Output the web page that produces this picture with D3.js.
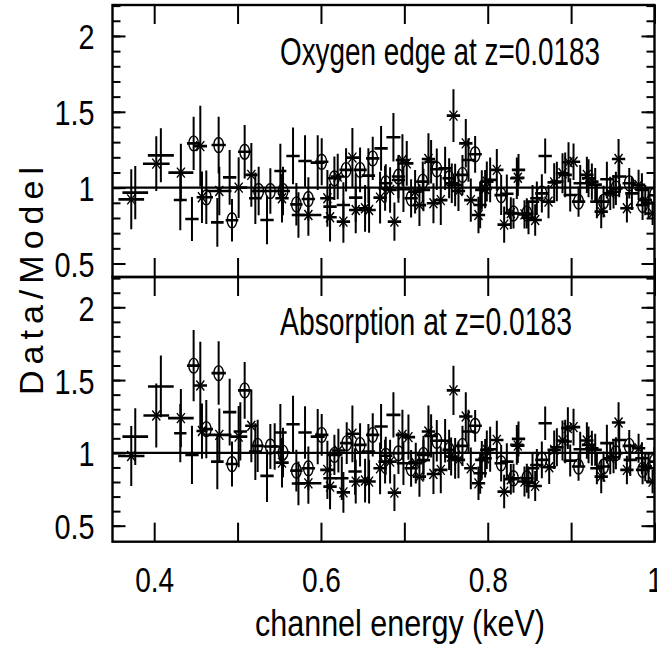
<!DOCTYPE html>
<html><head><meta charset="utf-8">
<script src="https://cdn.jsdelivr.net/npm/d3@7"></script>
<style>body{margin:0;background:#fff}svg{display:block}</style>
</head><body>
<script>
// ---- data: [energy keV, ratio, x half-width, y error] ----
const topPlus = [
[0.3773,0.967,0.0154,0.176],[0.408,1.213,0.0156,0.178],[0.4313,0.919,0.0078,0.2],[0.4453,0.793,0.008,0.145],
[0.4757,0.771,0.0076,0.16],[0.4905,1.068,0.008,0.18],[0.5213,0.93,0.0076,0.17],[0.5353,0.787,0.008,0.16],
[0.5513,1.11,0.0072,0.18],[0.5665,1.209,0.008,0.187],[0.573,0.82,0.008,0.15],[0.5809,1.176,0.008,0.17],
[0.5961,1.165,0.0084,0.18],[0.6109,0.875,0.008,0.15],[0.6269,0.886,0.008,0.15],[0.6417,0.934,0.008,0.16],
[0.6569,1.079,0.008,0.18],[0.6721,1.259,0.008,0.148],[0.6769,0.995,0.008,0.148],[0.6869,1.332,0.0084,0.16],
[0.6929,1.05,0.008,0.15],[0.6989,0.99,0.008,0.15],[0.7229,0.985,0.008,0.14],[0.7321,1.171,0.008,0.143],
[0.7489,1.127,0.008,0.143],[0.7609,1.018,0.008,0.14],[0.7769,1.182,0.008,0.143],[0.7909,0.886,0.008,0.154],
[0.7929,0.985,0.008,0.13],[0.8029,1.051,0.008,0.148],[0.8229,0.96,0.008,0.126],[0.8349,1.062,0.008,0.137],
[0.8369,1.117,0.008,0.105],[0.8489,0.802,0.008,0.11],[0.8537,0.908,0.008,0.11],[0.8589,0.93,0.008,0.11],
[0.8689,1.209,0.008,0.115],[0.8829,1.04,0.008,0.13],[0.8929,1.084,0.008,0.148],[0.8989,0.952,0.008,0.11],
[0.9109,1.029,0.008,0.12],[0.9209,1.062,0.008,0.126],[0.9289,1.02,0.008,0.11],[0.9309,0.908,0.008,0.11],
[0.9429,1.055,0.008,0.115],[0.9509,0.973,0.008,0.11],[0.9577,1.073,0.0086,0.137],[0.9729,0.962,0.008,0.11],
[0.9849,0.985,0.008,0.11],[0.9929,0.897,0.008,0.1]];
const topStar = [
[0.3725,0.923,0.0154,0.198],[0.4025,1.158,0.016,0.18],[0.432,1.099,0.015,0.19],[0.4553,1.274,0.008,0.266],
[0.4573,0.937,0.0064,0.17],[0.4781,0.978,0.0146,0.16],[0.5013,1.0,0.0104,0.2],[0.5165,1.084,0.0074,0.21],
[0.5533,0.93,0.008,0.16],[0.5849,0.82,0.0156,0.137],[0.6077,0.93,0.0086,0.187],[0.6109,0.805,0.008,0.16],
[0.6201,1.073,0.008,0.15],[0.6269,0.776,0.008,0.14],[0.6377,1.198,0.008,0.195],[0.6417,0.853,0.008,0.154],
[0.6529,0.864,0.008,0.154],[0.6577,0.853,0.008,0.15],[0.6709,0.934,0.008,0.17],[0.6829,0.985,0.008,0.15],
[0.6881,0.776,0.008,0.126],[0.6977,1.182,0.008,0.17],[0.7029,1.16,0.008,0.148],[0.7129,0.973,0.008,0.143],
[0.7181,0.885,0.008,0.137],[0.7289,1.189,0.008,0.17],[0.7349,0.897,0.008,0.132],[0.7437,0.918,0.008,0.165],
[0.7569,1.029,0.008,0.13],[0.7589,1.475,0.008,0.174],[0.7649,0.978,0.008,0.132],[0.7737,1.292,0.008,0.16],
[0.7797,0.918,0.008,0.143],[0.7889,0.82,0.008,0.12],[0.7969,0.991,0.008,0.126],[0.7989,1.04,0.008,0.132],
[0.8109,1.117,0.008,0.137],[0.8197,0.756,0.008,0.12],[0.8277,0.832,0.008,0.104],[0.8361,1.065,0.008,0.12],
[0.8441,0.824,0.008,0.093],[0.8569,0.787,0.008,0.104],[0.8729,0.908,0.008,0.11],[0.8797,1.035,0.008,0.126],
[0.8897,1.095,0.008,0.132],[0.8969,1.167,0.008,0.132],[0.9029,1.171,0.008,0.12],[0.9189,1.084,0.008,0.12],
[0.9249,1.04,0.008,0.12],[0.9361,0.842,0.008,0.11],[0.9469,0.962,0.008,0.11],[0.9569,1.189,0.008,0.132],
[0.9669,0.864,0.008,0.093],[0.9809,1.018,0.008,0.1],[0.9889,0.918,0.008,0.1],[0.9977,0.83,0.008,0.077]];
const topCircle = [
[0.4473,1.292,0.008,0.176],[0.4625,0.937,0.008,0.176],[0.4773,1.281,0.0086,0.187],[0.4933,0.785,0.0076,0.14],
[0.5085,1.237,0.008,0.176],[0.5253,0.978,0.008,0.16],[0.5393,0.978,0.008,0.15],[0.5545,0.978,0.0084,0.16],
[0.5705,0.89,0.0074,0.14],[0.5849,0.925,0.008,0.143],[0.6009,1.171,0.008,0.155],[0.6161,1.062,0.0084,0.143],
[0.6301,1.117,0.008,0.143],[0.6469,1.117,0.008,0.148],[0.6621,1.193,0.008,0.143],[0.6777,1.029,0.008,0.126],
[0.6929,1.073,0.008,0.143],[0.7081,0.93,0.008,0.126],[0.7221,1.04,0.008,0.132],[0.7389,1.121,0.008,0.137],
[0.7537,1.062,0.008,0.132],[0.7697,1.084,0.008,0.132],[0.7849,1.22,0.008,0.121],[0.8161,0.951,0.008,0.132],
[0.8309,0.83,0.008,0.1],[0.8469,0.83,0.008,0.1],[0.8649,0.962,0.008,0.126],[0.9089,0.908,0.008,0.1],
[0.9389,0.908,0.008,0.104],[0.9537,0.995,0.008,0.11],[0.9697,1.029,0.008,0.1],[0.9857,0.886,0.008,0.1],
[0.9999,0.95,0.008,0.1]];

const botPlus = [
[0.3773,1.112,0.0154,0.195],[0.408,1.456,0.0154,0.212],[0.4313,1.135,0.0074,0.2],[0.4453,0.986,0.008,0.2],
[0.4757,0.94,0.0076,0.19],[0.4905,1.28,0.008,0.23],[0.5033,1.147,0.008,0.2],[0.5213,1.009,0.0076,0.195],
[0.5353,0.842,0.008,0.18],[0.5445,1.044,0.006,0.16],[0.5513,1.14,0.0076,0.195],[0.5665,1.197,0.008,0.195],
[0.573,0.79,0.008,0.15],[0.5809,1.14,0.008,0.18],[0.5961,1.112,0.0084,0.19],[0.6109,0.826,0.008,0.155],
[0.625,0.826,0.008,0.15],[0.6409,0.872,0.008,0.16],[0.6569,1.009,0.008,0.19],[0.6721,1.181,0.008,0.155],
[0.6769,0.94,0.008,0.15],[0.6869,1.261,0.0084,0.155],[0.6989,0.929,0.008,0.15],[0.7229,0.95,0.008,0.14],
[0.7321,1.117,0.008,0.149],[0.7489,1.083,0.008,0.149],[0.7609,0.963,0.008,0.14],[0.7769,1.147,0.008,0.149],
[0.7909,0.86,0.008,0.14],[0.7929,0.952,0.008,0.13],[0.8029,1.025,0.008,0.155],[0.8229,0.94,0.008,0.126],
[0.8349,1.055,0.008,0.137],[0.8369,1.096,0.008,0.12],[0.8489,0.796,0.008,0.11],[0.8537,0.894,0.008,0.11],
[0.8589,0.917,0.008,0.11],[0.8689,1.204,0.008,0.115],[0.8829,1.039,0.008,0.13],[0.8929,1.078,0.008,0.15],
[0.8989,0.947,0.008,0.11],[0.9109,1.025,0.008,0.12],[0.9209,1.055,0.008,0.126],[0.9289,1.021,0.008,0.11],
[0.9309,0.894,0.008,0.11],[0.9429,1.067,0.008,0.126],[0.9509,0.97,0.008,0.11],[0.9577,1.089,0.0086,0.137],
[0.9709,0.952,0.008,0.11],[0.9849,0.963,0.008,0.11],[0.9929,0.894,0.008,0.1]];
const botStar = [
[0.3725,0.979,0.0158,0.206],[0.4025,1.257,0.0154,0.22],[0.432,1.239,0.0154,0.2],[0.4553,1.463,0.008,0.3],
[0.4573,1.15,0.0066,0.19],[0.4781,1.124,0.0146,0.18],[0.5013,1.112,0.0104,0.21],[0.5165,1.186,0.0074,0.25],
[0.5533,0.933,0.008,0.17],[0.5849,0.791,0.0156,0.14],[0.6077,0.883,0.0086,0.2],[0.6109,0.768,0.008,0.155],
[0.6209,1.016,0.008,0.15],[0.6269,0.729,0.008,0.14],[0.6377,1.131,0.008,0.195],[0.6417,0.803,0.008,0.15],
[0.6529,0.81,0.008,0.15],[0.6577,0.803,0.008,0.15],[0.6709,0.894,0.008,0.178],[0.6829,0.94,0.008,0.15],
[0.6881,0.727,0.008,0.126],[0.6977,1.124,0.008,0.172],[0.7049,1.108,0.008,0.155],[0.7137,0.929,0.008,0.14],
[0.7181,0.837,0.008,0.138],[0.7289,1.147,0.008,0.178],[0.7349,0.855,0.008,0.138],[0.7437,0.883,0.008,0.16],
[0.7561,0.975,0.008,0.13],[0.7589,1.429,0.008,0.169],[0.7649,0.952,0.008,0.126],[0.7737,1.25,0.008,0.166],
[0.7797,0.894,0.008,0.143],[0.7889,0.791,0.008,0.115],[0.7969,0.963,0.008,0.132],[0.7989,1.021,0.008,0.132],
[0.8109,1.089,0.008,0.132],[0.8197,0.734,0.008,0.115],[0.8277,0.819,0.008,0.104],[0.8361,1.05,0.008,0.12],
[0.8441,0.803,0.008,0.103],[0.8569,0.773,0.008,0.103],[0.8737,0.901,0.008,0.115],[0.8797,1.021,0.008,0.132],
[0.8897,1.085,0.008,0.138],[0.8961,1.17,0.008,0.143],[0.9029,1.177,0.008,0.126],[0.9189,1.085,0.008,0.126],
[0.9249,1.032,0.008,0.12],[0.9361,0.837,0.008,0.115],[0.9469,0.963,0.008,0.11],[0.9569,1.209,0.008,0.138],
[0.9669,0.883,0.008,0.098],[0.9809,1.032,0.008,0.1],[0.9889,0.906,0.008,0.1],[0.9977,0.803,0.008,0.08]];
const botCircle = [
[0.4473,1.599,0.008,0.245],[0.4625,1.163,0.008,0.2],[0.4773,1.548,0.0086,0.218],[0.4933,0.924,0.0076,0.155],
[0.5085,1.429,0.008,0.195],[0.5241,1.048,0.0074,0.18],[0.5393,1.044,0.008,0.155],[0.5545,1.002,0.0084,0.17],
[0.5705,0.878,0.0074,0.143],[0.5849,0.894,0.008,0.15],[0.6009,1.124,0.008,0.143],[0.6161,0.986,0.0084,0.138],
[0.6309,1.067,0.008,0.143],[0.6469,1.055,0.008,0.149],[0.6621,1.124,0.008,0.149],[0.6777,0.98,0.008,0.13],
[0.6929,0.998,0.008,0.143],[0.7081,0.894,0.008,0.126],[0.7229,0.986,0.008,0.132],[0.7389,1.083,0.008,0.143],
[0.7537,1.021,0.008,0.138],[0.7697,1.048,0.008,0.138],[0.7849,1.186,0.008,0.109],[0.8161,0.929,0.008,0.126],
[0.8309,0.826,0.008,0.1],[0.8469,0.826,0.008,0.1],[0.8649,0.952,0.008,0.126],[0.9089,0.906,0.008,0.098],
[0.9389,0.906,0.008,0.104],[0.9537,0.998,0.008,0.11],[0.9697,1.048,0.008,0.109],[0.9857,0.883,0.008,0.098],
[0.9999,0.94,0.008,0.1]];

const xTicks = [0.4,0.5,0.6,0.7,0.8,0.9,1.0];
const xTickLabels = ["0.4","","0.6","","0.8","","1"];
const yMajor = [0.5,1,1.5,2];
const yMajorLabels = ["0.5","1","1.5","2"];
const yMinor = [0.5,0.6,0.7,0.8,0.9,1.0,1.1,1.2,1.3,1.4,1.5,1.6,1.7,1.8,1.9,2.0,2.1,2.2];
const titles = ["Oxygen edge at z=0.0183","Absorption at z=0.0183"];
const xTitle = "channel energy (keV)";
const yTitle = "Data/Model";

// ---- drawing ----
const W = 657, H = 651;
const FONT = "'Liberation Sans', Arial, sans-serif";
const svg = d3.select("body").append("svg").attr("width", W).attr("height", H);
const L = 112.5, R = 654.5;
const x = d3.scaleLinear().domain([0.35, 1.0]).range([L, R]);

const panels = [
  {top: 5, bottom: 277, dom: [0.411, 2.204], data: [topPlus, topStar, topCircle], title: titles[0], tx: 280, ty: 65, tl: 320},
  {top: 277, bottom: 541.7, dom: [0.39, 2.208], data: [botPlus, botStar, botCircle], title: titles[1], tx: 280, ty: 335, tl: 292}
];

panels.forEach((p, i) => {
  const y = d3.scaleLinear().domain(p.dom).range([p.bottom, p.top]);
  const g = svg.append("g");
  const cid = "clip" + i;
  svg.append("clipPath").attr("id", cid).append("rect")
    .attr("x", L).attr("y", p.top).attr("width", R - L).attr("height", p.bottom - p.top);

  const minorV = yMinor.filter(v => v > p.dom[0] && v < p.dom[1]);
  const aL1 = d3.axisLeft(y).tickValues(minorV).tickSize(-8).tickFormat("");
  const aL2 = d3.axisLeft(y).tickValues(yMajor).tickSize(-13).tickFormat((d, k) => yMajorLabels[k]);
  const aR1 = d3.axisRight(y).tickValues(minorV).tickSize(-8).tickFormat("");
  const aR2 = d3.axisRight(y).tickValues(yMajor).tickSize(-13).tickFormat("");
  const aT = d3.axisTop(x).tickValues(xTicks).tickSize(-19).tickFormat("");
  const aB = d3.axisBottom(x).tickValues(xTicks).tickSize(-19)
      .tickFormat(i === 1 ? ((d, k) => xTickLabels[k]) : "");

  const ax = (gen, tr) => {
    const a = g.append("g").attr("transform", tr).call(gen);
    a.select(".domain").remove();
    a.selectAll("line").attr("stroke", "#000").attr("stroke-width", 2);
    a.selectAll("text").attr("font-family", FONT).attr("fill", "#000");
    return a;
  };
  ax(aL1, `translate(${L},0)`);
  const la = ax(aL2, `translate(${L},0)`);
  la.selectAll("text").attr("x", 0).attr("dy", "0.36em").attr("font-size", 36)
    .attr("transform", "translate(-18,0) scale(0.8,1)");
  ax(aR1, `translate(${R},0)`);
  ax(aR2, `translate(${R},0)`);
  ax(aT, `translate(0,${p.top})`);
  const ba = ax(aB, `translate(0,${p.bottom})`);
  if (i === 1) {
    ba.selectAll("text").attr("y", 0).attr("dy", null).attr("font-size", 36)
      .attr("transform", `translate(0,${592 - p.bottom}) scale(0.78,1)`);
  }

  g.append("line").attr("x1", L).attr("x2", R).attr("y1", y(1)).attr("y2", y(1))
    .attr("stroke", "#000").attr("stroke-width", 2.2);

  const dg = g.append("g").attr("clip-path", `url(#${cid})`);
  p.data.forEach((series, si) => {
    const pts = dg.selectAll(null).data(series).enter().append("g");
    pts.append("line").attr("x1", d => x(d[0])).attr("x2", d => x(d[0]))
      .attr("y1", d => y(d[1] - d[3])).attr("y2", d => y(d[1] + d[3]))
      .attr("stroke", "#000").attr("stroke-width", 2);
    pts.append("line").attr("x1", d => x(d[0] - d[2])).attr("x2", d => x(d[0] + d[2]))
      .attr("y1", d => y(d[1])).attr("y2", d => y(d[1]))
      .attr("stroke", "#000").attr("stroke-width", 2.6);
    if (si === 1) {
      pts.append("path").attr("d", d => {
        const cx = x(d[0]), cy = y(d[1]);
        return `M${cx-4},${cy-5}L${cx+4},${cy+5}M${cx-4},${cy+5}L${cx+4},${cy-5}`;
      }).attr("stroke", "#000").attr("stroke-width", 1.4).attr("fill", "none");
    } else if (si === 2) {
      pts.append("ellipse").attr("cx", d => x(d[0])).attr("cy", d => y(d[1]))
        .attr("rx", 4.8).attr("ry", 7.5).attr("fill", "none").attr("stroke", "#000").attr("stroke-width", 1.4);
    }
  });

  g.append("rect").attr("x", L).attr("y", p.top).attr("width", R - L).attr("height", p.bottom - p.top)
    .attr("fill", "none").attr("stroke", "#000").attr("stroke-width", 2.4);

  g.append("text").attr("x", p.tx).attr("y", p.ty).attr("font-family", FONT).attr("font-size", 38)
    .attr("textLength", p.tl).attr("lengthAdjust", "spacingAndGlyphs").text(p.title);
});

svg.append("text").attr("x", 255).attr("y", 636).attr("font-family", FONT).attr("font-size", 37)
  .attr("textLength", 290).attr("lengthAdjust", "spacingAndGlyphs").text(xTitle);
svg.append("text").attr("transform", "translate(43,281) rotate(-90)").attr("text-anchor", "middle")
  .attr("font-family", FONT).attr("font-size", 34)
  .attr("textLength", 228).attr("lengthAdjust", "spacing").text(yTitle);
</script>
</body></html>
